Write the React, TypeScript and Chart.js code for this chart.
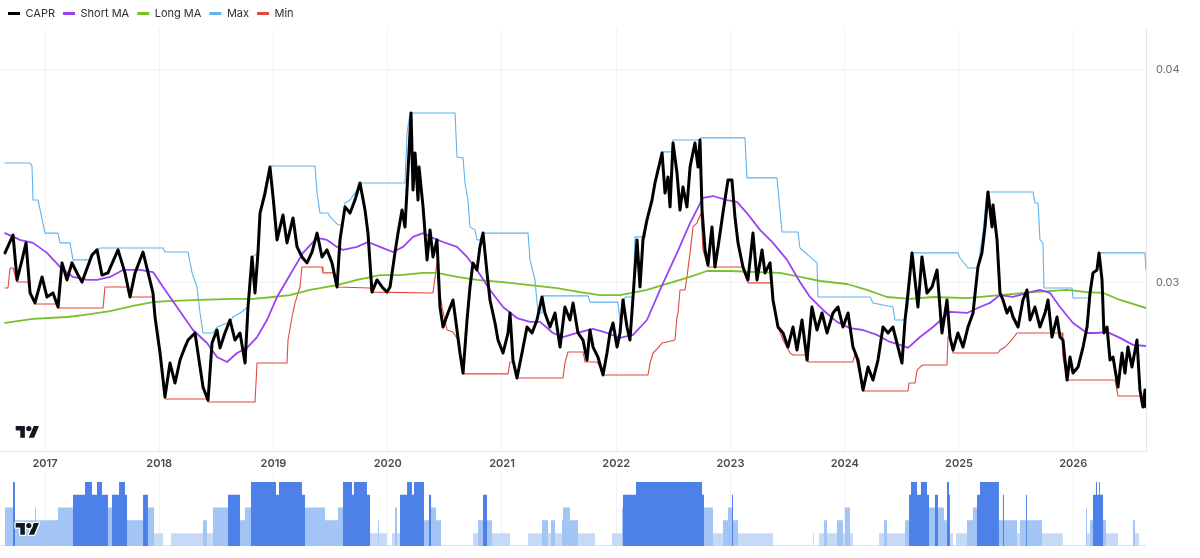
import React, { useEffect, useRef } from "react";
import { Chart, registerables } from "chart.js";

Chart.register(...registerables);
Chart.defaults.font.family = "Inter, 'Noto Sans', sans-serif";

const yearTicks = [2017, 2018, 2019, 2020, 2021, 2022, 2023, 2024, 2025, 2026];
const priceTicks = [0.03, 0.04];
const xMin = 2016.606;
const xMax = 2026.637;
const yMin = 0.02208;
const yMax = 0.04189;

const caprSeries: [number, number][] = [
  [2016.650, 0.03138], [2016.720, 0.03222], [2016.755, 0.03011], [2016.799, 0.03105], [2016.834, 0.03185],
  [2016.869, 0.02950], [2016.912, 0.02903], [2016.974, 0.03025], [2017.017, 0.02931], [2017.070, 0.02950],
  [2017.114, 0.02884], [2017.149, 0.03091], [2017.192, 0.03011], [2017.236, 0.03091], [2017.289, 0.03034],
  [2017.324, 0.03001], [2017.411, 0.03128], [2017.455, 0.03152], [2017.499, 0.03034], [2017.551, 0.03044],
  [2017.639, 0.03152], [2017.700, 0.03044], [2017.744, 0.02931], [2017.788, 0.03044], [2017.858, 0.03142],
  [2017.901, 0.03048], [2017.945, 0.02950], [2017.963, 0.02837], [2018.007, 0.02668], [2018.050, 0.02462],
  [2018.094, 0.02621], [2018.138, 0.02527], [2018.182, 0.02635], [2018.225, 0.02696], [2018.252, 0.02729],
  [2018.313, 0.02762], [2018.357, 0.02602], [2018.383, 0.02508], [2018.427, 0.02447], [2018.462, 0.02715],
  [2018.505, 0.02776], [2018.532, 0.02692], [2018.575, 0.02762], [2018.619, 0.02823], [2018.663, 0.02729],
  [2018.707, 0.02762], [2018.751, 0.02621], [2018.777, 0.02884], [2018.812, 0.03119], [2018.838, 0.02950],
  [2018.864, 0.03138], [2018.882, 0.03325], [2018.926, 0.03419], [2018.969, 0.03541], [2018.996, 0.03401],
  [2019.031, 0.03199], [2019.083, 0.03316], [2019.118, 0.03185], [2019.171, 0.03302], [2019.206, 0.03166],
  [2019.249, 0.03119], [2019.293, 0.03091], [2019.337, 0.03142], [2019.381, 0.03231], [2019.425, 0.03119],
  [2019.468, 0.03152], [2019.512, 0.03091], [2019.556, 0.02978], [2019.582, 0.03199], [2019.626, 0.03354],
  [2019.670, 0.03325], [2019.713, 0.03386], [2019.757, 0.03466], [2019.801, 0.03339], [2019.827, 0.03231],
  [2019.862, 0.02954], [2019.906, 0.03011], [2019.950, 0.02978], [2019.993, 0.02954], [2020.020, 0.02978],
  [2020.063, 0.03138], [2020.090, 0.03231], [2020.125, 0.03339], [2020.151, 0.03260], [2020.177, 0.03518],
  [2020.204, 0.03795], [2020.221, 0.03433], [2020.239, 0.03607], [2020.265, 0.03386], [2020.274, 0.03541],
  [2020.309, 0.03354], [2020.344, 0.03105], [2020.370, 0.03246], [2020.396, 0.03119], [2020.431, 0.03199],
  [2020.457, 0.02884], [2020.484, 0.02790], [2020.527, 0.02856], [2020.571, 0.02917], [2020.606, 0.02776],
  [2020.632, 0.02668], [2020.659, 0.02574], [2020.694, 0.02823], [2020.720, 0.02978], [2020.746, 0.03091],
  [2020.781, 0.03058], [2020.807, 0.03166], [2020.834, 0.03231], [2020.869, 0.03044], [2020.895, 0.02917],
  [2020.939, 0.02809], [2020.965, 0.02729], [2021.009, 0.02668], [2021.053, 0.02762], [2021.070, 0.02856],
  [2021.096, 0.02635], [2021.131, 0.02551], [2021.175, 0.02668], [2021.219, 0.02790], [2021.263, 0.02762],
  [2021.306, 0.02823], [2021.350, 0.02931], [2021.376, 0.02856], [2021.420, 0.02790], [2021.464, 0.02856],
  [2021.508, 0.02696], [2021.551, 0.02884], [2021.595, 0.02823], [2021.622, 0.02903], [2021.665, 0.02762],
  [2021.709, 0.02729], [2021.744, 0.02635], [2021.770, 0.02776], [2021.797, 0.02696], [2021.840, 0.02649],
  [2021.884, 0.02565], [2021.919, 0.02668], [2021.945, 0.02762], [2021.972, 0.02809], [2022.007, 0.02696],
  [2022.033, 0.02762], [2022.059, 0.02917], [2022.094, 0.02790], [2022.120, 0.02729], [2022.147, 0.02931],
  [2022.182, 0.03199], [2022.208, 0.02978], [2022.234, 0.03199], [2022.269, 0.03293], [2022.313, 0.03386],
  [2022.339, 0.03466], [2022.366, 0.03527], [2022.401, 0.03607], [2022.427, 0.03419], [2022.453, 0.03494],
  [2022.471, 0.03354], [2022.497, 0.03654], [2022.532, 0.03513], [2022.558, 0.03339], [2022.584, 0.03447],
  [2022.619, 0.03354], [2022.646, 0.03541], [2022.689, 0.03654], [2022.716, 0.03541], [2022.733, 0.03668],
  [2022.751, 0.03339], [2022.777, 0.03152], [2022.803, 0.03081], [2022.838, 0.03260], [2022.864, 0.03072],
  [2022.891, 0.03166], [2022.934, 0.03325], [2022.978, 0.03480], [2023.013, 0.03480], [2023.039, 0.03307],
  [2023.066, 0.03185], [2023.109, 0.03072], [2023.153, 0.03011], [2023.197, 0.03231], [2023.232, 0.03011],
  [2023.276, 0.03152], [2023.302, 0.03044], [2023.346, 0.03091], [2023.372, 0.02917], [2023.416, 0.02790],
  [2023.460, 0.02762], [2023.503, 0.02696], [2023.547, 0.02790], [2023.582, 0.02682], [2023.626, 0.02823],
  [2023.670, 0.02635], [2023.713, 0.02884], [2023.757, 0.02776], [2023.801, 0.02856], [2023.845, 0.02762],
  [2023.897, 0.02856], [2023.941, 0.02884], [2023.985, 0.02790], [2024.029, 0.02856], [2024.072, 0.02696],
  [2024.116, 0.02635], [2024.160, 0.02494], [2024.204, 0.02602], [2024.247, 0.02541], [2024.291, 0.02635],
  [2024.335, 0.02790], [2024.379, 0.02762], [2024.422, 0.02790], [2024.466, 0.02696], [2024.501, 0.02621],
  [2024.528, 0.02823], [2024.554, 0.02950], [2024.589, 0.03138], [2024.615, 0.03011], [2024.641, 0.02884],
  [2024.676, 0.03119], [2024.720, 0.02950], [2024.764, 0.02978], [2024.808, 0.03058], [2024.851, 0.02762],
  [2024.895, 0.02917], [2024.921, 0.02743], [2024.948, 0.02682], [2024.991, 0.02762], [2025.035, 0.02696],
  [2025.079, 0.02790], [2025.123, 0.02856], [2025.166, 0.03072], [2025.201, 0.03138], [2025.228, 0.03260],
  [2025.254, 0.03424], [2025.289, 0.03260], [2025.298, 0.03363], [2025.333, 0.03199], [2025.359, 0.02950],
  [2025.385, 0.02917], [2025.420, 0.02856], [2025.447, 0.02884], [2025.473, 0.02837], [2025.517, 0.02790],
  [2025.560, 0.02917], [2025.595, 0.02964], [2025.622, 0.02823], [2025.665, 0.02884], [2025.709, 0.02790],
  [2025.753, 0.02856], [2025.779, 0.02917], [2025.814, 0.02743], [2025.858, 0.02837], [2025.884, 0.02743],
  [2025.910, 0.02729], [2025.946, 0.02541], [2025.972, 0.02649], [2025.998, 0.02574], [2026.042, 0.02602],
  [2026.086, 0.02696], [2026.121, 0.02790], [2026.147, 0.02950], [2026.173, 0.03044], [2026.208, 0.03058],
  [2026.226, 0.03138], [2026.252, 0.03011], [2026.269, 0.02762], [2026.296, 0.02790], [2026.322, 0.02635],
  [2026.348, 0.02649], [2026.392, 0.02508], [2026.427, 0.02668], [2026.453, 0.02574], [2026.479, 0.02696],
  [2026.514, 0.02602], [2026.558, 0.02729], [2026.584, 0.02494], [2026.611, 0.02415], [2026.628, 0.02494],
  [2026.637, 0.02415],
];

const shortMaSeries: [number, number][] = [
  [2016.650, 0.03231], [2016.781, 0.03199], [2016.895, 0.03185], [2017.017, 0.03138], [2017.131, 0.03072],
  [2017.245, 0.03025], [2017.368, 0.03011], [2017.455, 0.03011], [2017.569, 0.03025], [2017.683, 0.03058],
  [2017.831, 0.03058], [2017.945, 0.03048], [2018.033, 0.02978], [2018.155, 0.02884], [2018.295, 0.02776],
  [2018.418, 0.02715], [2018.505, 0.02649], [2018.593, 0.02626], [2018.681, 0.02668], [2018.768, 0.02692],
  [2018.856, 0.02743], [2018.943, 0.02823], [2019.031, 0.02931], [2019.118, 0.03011], [2019.258, 0.03138],
  [2019.381, 0.03208], [2019.468, 0.03199], [2019.556, 0.03166], [2019.608, 0.03152], [2019.731, 0.03166],
  [2019.827, 0.03189], [2019.932, 0.03166], [2020.046, 0.03142], [2020.134, 0.03166], [2020.221, 0.03213],
  [2020.309, 0.03231], [2020.396, 0.03208], [2020.484, 0.03189], [2020.606, 0.03166], [2020.694, 0.03119],
  [2020.781, 0.03058], [2020.895, 0.02964], [2021.009, 0.02884], [2021.131, 0.02832], [2021.245, 0.02814],
  [2021.333, 0.02814], [2021.446, 0.02762], [2021.534, 0.02743], [2021.656, 0.02762], [2021.797, 0.02781],
  [2021.919, 0.02762], [2022.033, 0.02739], [2022.147, 0.02753], [2022.269, 0.02823], [2022.383, 0.02964],
  [2022.532, 0.03138], [2022.646, 0.03278], [2022.759, 0.03396], [2022.847, 0.03405], [2022.969, 0.03386],
  [2023.057, 0.03377], [2023.144, 0.03325], [2023.258, 0.03246], [2023.372, 0.03185], [2023.495, 0.03105],
  [2023.608, 0.03001], [2023.696, 0.02931], [2023.810, 0.02870], [2023.932, 0.02814], [2024.046, 0.02785],
  [2024.160, 0.02776], [2024.282, 0.02753], [2024.396, 0.02720], [2024.484, 0.02706], [2024.554, 0.02692],
  [2024.659, 0.02743], [2024.773, 0.02790], [2024.921, 0.02861], [2025.070, 0.02856], [2025.184, 0.02884],
  [2025.271, 0.02903], [2025.359, 0.02940], [2025.473, 0.02931], [2025.595, 0.02950], [2025.709, 0.02964],
  [2025.797, 0.02950], [2025.884, 0.02884], [2025.998, 0.02809], [2026.121, 0.02762], [2026.208, 0.02762],
  [2026.296, 0.02767], [2026.409, 0.02739], [2026.523, 0.02706], [2026.637, 0.02701],
];

const longMaSeries: [number, number][] = [
  [2016.650, 0.02809], [2016.895, 0.02828], [2017.192, 0.02837], [2017.333, 0.02846], [2017.569, 0.02865],
  [2017.770, 0.02889], [2017.945, 0.02907], [2018.068, 0.02912], [2018.357, 0.02917], [2018.645, 0.02922],
  [2018.821, 0.02922], [2018.996, 0.02931], [2019.144, 0.02940], [2019.319, 0.02964], [2019.556, 0.02987],
  [2019.731, 0.03011], [2019.932, 0.03034], [2020.107, 0.03034], [2020.309, 0.03044], [2020.431, 0.03044],
  [2020.606, 0.03025], [2020.781, 0.03011], [2021.009, 0.03001], [2021.245, 0.02987], [2021.481, 0.02973],
  [2021.683, 0.02954], [2021.858, 0.02940], [2022.033, 0.02940], [2022.269, 0.02964], [2022.471, 0.02997],
  [2022.646, 0.03025], [2022.794, 0.03053], [2022.996, 0.03053], [2023.232, 0.03048], [2023.433, 0.03044],
  [2023.608, 0.03025], [2023.784, 0.03006], [2024.020, 0.02992], [2024.195, 0.02964], [2024.370, 0.02931],
  [2024.571, 0.02922], [2024.773, 0.02931], [2025.070, 0.02926], [2025.359, 0.02940], [2025.648, 0.02954],
  [2025.946, 0.02964], [2026.121, 0.02954], [2026.261, 0.02950], [2026.409, 0.02917], [2026.637, 0.02879],
];

const maxSeries: [number, number][] = [
  [2016.650, 0.03560], [2016.869, 0.03560], [2016.886, 0.03546], [2016.895, 0.03386], [2016.939, 0.03386],
  [2017.000, 0.03231], [2017.114, 0.03231], [2017.131, 0.03185], [2017.219, 0.03185], [2017.245, 0.03105],
  [2017.394, 0.03105], [2017.411, 0.03128], [2017.455, 0.03152], [2017.481, 0.03161], [2018.033, 0.03161],
  [2018.050, 0.03142], [2018.252, 0.03142], [2018.287, 0.03044], [2018.330, 0.02978], [2018.357, 0.02856],
  [2018.383, 0.02762], [2018.470, 0.02762], [2018.505, 0.02790], [2018.619, 0.02814], [2018.645, 0.02837],
  [2018.707, 0.02856], [2018.777, 0.02884], [2018.812, 0.03119], [2018.864, 0.03138], [2018.882, 0.03325],
  [2018.926, 0.03447], [2018.969, 0.03546], [2019.363, 0.03546], [2019.381, 0.03419], [2019.407, 0.03325],
  [2019.477, 0.03325], [2019.495, 0.03307], [2019.565, 0.03269], [2019.600, 0.03269], [2019.626, 0.03372],
  [2019.670, 0.03386], [2019.731, 0.03433], [2019.757, 0.03466], [2020.151, 0.03466], [2020.169, 0.03701],
  [2020.195, 0.03795], [2020.589, 0.03795], [2020.606, 0.03588], [2020.659, 0.03584], [2020.676, 0.03466],
  [2020.702, 0.03386], [2020.720, 0.03260], [2020.764, 0.03246], [2020.781, 0.03199], [2020.807, 0.03199],
  [2020.834, 0.03231], [2021.228, 0.03231], [2021.245, 0.03105], [2021.289, 0.03011], [2021.315, 0.02856],
  [2021.350, 0.02856], [2021.359, 0.02936], [2021.753, 0.02936], [2021.770, 0.02907], [2022.015, 0.02907],
  [2022.033, 0.02814], [2022.077, 0.02931], [2022.147, 0.02931], [2022.164, 0.03213], [2022.252, 0.03213],
  [2022.269, 0.03293], [2022.313, 0.03386], [2022.357, 0.03527], [2022.401, 0.03612], [2022.488, 0.03612],
  [2022.497, 0.03668], [2022.733, 0.03668], [2022.742, 0.03678], [2023.127, 0.03678], [2023.144, 0.03490],
  [2023.407, 0.03490], [2023.433, 0.03339], [2023.451, 0.03236], [2023.591, 0.03236], [2023.608, 0.03161],
  [2023.696, 0.03119], [2023.757, 0.03091], [2023.766, 0.02931], [2024.221, 0.02931], [2024.247, 0.02903],
  [2024.422, 0.02884], [2024.440, 0.02823], [2024.528, 0.02823], [2024.554, 0.02884], [2024.589, 0.03138],
  [2024.991, 0.03138], [2025.009, 0.03114], [2025.079, 0.03067], [2025.166, 0.03067], [2025.184, 0.03138],
  [2025.210, 0.03231], [2025.245, 0.03424], [2025.648, 0.03424], [2025.665, 0.03372], [2025.692, 0.03372],
  [2025.709, 0.03199], [2025.735, 0.03185], [2025.744, 0.02973], [2025.989, 0.02973], [2025.998, 0.02926],
  [2026.147, 0.02926], [2026.173, 0.03044], [2026.208, 0.03058], [2026.226, 0.03138], [2026.628, 0.03138],
  [2026.637, 0.03058],
];

const minSeries: [number, number][] = [
  [2016.650, 0.02973], [2016.676, 0.02973], [2016.694, 0.03067], [2016.720, 0.03067], [2016.755, 0.03001],
  [2016.851, 0.03001], [2016.886, 0.02931], [2016.912, 0.02898], [2017.105, 0.02898], [2017.114, 0.02879],
  [2017.508, 0.02879], [2017.525, 0.02978], [2017.718, 0.02978], [2017.744, 0.02931], [2017.945, 0.02931],
  [2017.963, 0.02837], [2018.007, 0.02668], [2018.050, 0.02452], [2018.418, 0.02452], [2018.427, 0.02438],
  [2018.838, 0.02438], [2018.856, 0.02621], [2019.118, 0.02621], [2019.127, 0.02729], [2019.162, 0.02837],
  [2019.188, 0.02903], [2019.232, 0.02978], [2019.249, 0.03072], [2019.425, 0.03072], [2019.433, 0.03044],
  [2019.521, 0.03044], [2019.556, 0.02978], [2019.845, 0.02973], [2019.862, 0.02954], [2020.396, 0.02950],
  [2020.431, 0.03091], [2020.440, 0.03011], [2020.475, 0.02884], [2020.519, 0.02776], [2020.571, 0.02767],
  [2020.615, 0.02729], [2020.659, 0.02570], [2021.053, 0.02570], [2021.070, 0.02626], [2021.096, 0.02626],
  [2021.131, 0.02551], [2021.534, 0.02551], [2021.551, 0.02621], [2021.578, 0.02673], [2021.709, 0.02673],
  [2021.727, 0.02626], [2021.832, 0.02626], [2021.858, 0.02602], [2021.884, 0.02565], [2022.278, 0.02565],
  [2022.296, 0.02621], [2022.322, 0.02668], [2022.366, 0.02692], [2022.401, 0.02715], [2022.444, 0.02720],
  [2022.514, 0.02729], [2022.532, 0.02837], [2022.541, 0.02856], [2022.558, 0.02964], [2022.602, 0.02964],
  [2022.619, 0.03025], [2022.646, 0.03138], [2022.672, 0.03260], [2022.707, 0.03278], [2022.742, 0.03325],
  [2022.759, 0.03152], [2022.803, 0.03072], [2023.101, 0.03072], [2023.109, 0.03058], [2023.153, 0.02997],
  [2023.363, 0.02997], [2023.372, 0.02917], [2023.416, 0.02790], [2023.460, 0.02729], [2023.521, 0.02668],
  [2023.547, 0.02659], [2023.670, 0.02659], [2023.678, 0.02626], [2024.072, 0.02626], [2024.090, 0.02668],
  [2024.116, 0.02602], [2024.160, 0.02490], [2024.554, 0.02490], [2024.563, 0.02527], [2024.615, 0.02527],
  [2024.633, 0.02588], [2024.659, 0.02602], [2024.685, 0.02612], [2024.895, 0.02612], [2024.904, 0.02743],
  [2024.921, 0.02743], [2024.948, 0.02668], [2025.341, 0.02668], [2025.359, 0.02682], [2025.403, 0.02696],
  [2025.447, 0.02720], [2025.508, 0.02762], [2025.902, 0.02762], [2025.910, 0.02649], [2025.946, 0.02541],
  [2026.366, 0.02541], [2026.392, 0.02466], [2026.584, 0.02466], [2026.602, 0.02415], [2026.637, 0.02415],
];

// [start date, signal level 0..5] — each level holds until the next start
const signalSteps: [number, number][] = [
  [2016.650, 3], [2016.720, 5], [2016.737, 2], [2016.912, 3], [2016.921, 2], [2017.114, 3], [2017.245, 4],
  [2017.350, 5], [2017.411, 4], [2017.455, 5], [2017.499, 4], [2017.551, 3], [2017.586, 4], [2017.648, 5],
  [2017.700, 4], [2017.718, 2], [2017.858, 4], [2017.901, 3], [2017.954, 1], [2018.033, 0], [2018.103, 1],
  [2018.383, 2], [2018.418, 1], [2018.470, 3], [2018.602, 4], [2018.707, 2], [2018.751, 3], [2018.803, 5],
  [2019.022, 4], [2019.048, 5], [2019.249, 4], [2019.276, 3], [2019.451, 2], [2019.565, 3], [2019.608, 5],
  [2019.687, 4], [2019.704, 5], [2019.818, 4], [2019.845, 1], [2019.915, 2], [2019.923, 1], [2019.993, 0],
  [2020.037, 1], [2020.063, 3], [2020.081, 1], [2020.107, 4], [2020.169, 5], [2020.212, 4], [2020.230, 5],
  [2020.317, 2], [2020.361, 4], [2020.379, 3], [2020.422, 2], [2020.466, 0], [2020.746, 1], [2020.790, 2],
  [2020.834, 4], [2020.869, 2], [2020.912, 1], [2021.070, 0], [2021.228, 1], [2021.350, 2], [2021.403, 1],
  [2021.429, 2], [2021.464, 1], [2021.525, 2], [2021.534, 3], [2021.595, 2], [2021.665, 1], [2021.814, 0],
  [2021.963, 1], [2022.050, 3], [2022.059, 4], [2022.173, 5], [2022.751, 4], [2022.768, 3], [2022.847, 1],
  [2022.934, 2], [2022.978, 3], [2023.013, 4], [2023.022, 2], [2023.066, 1], [2023.372, 0], [2023.722, 1],
  [2023.731, 0], [2023.775, 1], [2023.819, 2], [2023.845, 1], [2023.932, 2], [2023.985, 1], [2024.002, 3],
  [2024.046, 1], [2024.072, 0], [2024.300, 1], [2024.344, 2], [2024.370, 1], [2024.528, 2], [2024.563, 4],
  [2024.580, 5], [2024.633, 4], [2024.667, 5], [2024.720, 4], [2024.738, 3], [2024.790, 4], [2024.816, 3],
  [2024.869, 2], [2024.895, 5], [2024.913, 4], [2024.921, 1], [2024.948, 0], [2024.974, 1], [2025.070, 2],
  [2025.123, 3], [2025.158, 4], [2025.184, 5], [2025.350, 2], [2025.385, 4], [2025.394, 2], [2025.508, 1],
  [2025.534, 2], [2025.587, 4], [2025.595, 2], [2025.727, 1], [2025.910, 0], [2026.112, 3], [2026.121, 1],
  [2026.147, 2], [2026.173, 4], [2026.199, 5], [2026.208, 4], [2026.226, 5], [2026.234, 4], [2026.261, 2],
  [2026.287, 1], [2026.392, 0], [2026.523, 2], [2026.541, 1], [2026.576, 0],
];
const signalEnd = 2026.637;

const toXY = (s: [number, number][]) => s.map(([x, y]) => ({ x, y }));

const gridColor = "#f0f2f6";

function TvLogo({ left, top, outline }: { left: number; top: number; outline?: boolean }) {
  const stroke = outline ? "#ffffff" : "none";
  const sw = outline ? 4 : 0;
  return (
    <svg
      width={27}
      height={21}
      viewBox="-2 -2 40 32"
      style={{ position: "absolute", left: left - 1.5, top: top - 1.5, overflow: "visible", pointerEvents: "none" }}
    >
      <path
        d="M14 22H7V11H0V4h14v18zM28 22h-8l7.5-18h8L28 22z"
        fill="#131722"
        stroke={stroke}
        strokeWidth={sw}
        paintOrder="stroke"
        strokeLinejoin="round"
      />
      <circle cx="20" cy="8" r="4" fill="#131722" stroke={stroke} strokeWidth={sw} paintOrder="stroke" />
    </svg>
  );
}

export default function App() {
  const topRef = useRef<HTMLCanvasElement | null>(null);
  const botRef = useRef<HTMLCanvasElement | null>(null);

  useEffect(() => {
    document.body.style.margin = "0";
    document.body.style.background = "#ffffff";
    if (!topRef.current || !botRef.current) return;

    const yearTickBuilder = (axis: any) => {
      axis.ticks = yearTicks.map((v) => ({ value: v }));
    };

    const lineDs = (label: string, series: [number, number][], color: string, width: number) => ({
      label,
      data: toXY(series),
      borderColor: color,
      backgroundColor: color,
      borderWidth: width,
      pointRadius: 0,
      pointHoverRadius: 0,
      tension: 0,
      borderJoinStyle: "round" as const,
      borderCapStyle: "round" as const,
      fill: false,
    });

    const top = new Chart(topRef.current, {
      type: "line",
      data: {
        datasets: [
          lineDs("CAPR", caprSeries, "#000000", 3),
          lineDs("Short MA", shortMaSeries, "#9a43f3", 1.8),
          lineDs("Long MA", longMaSeries, "#78c12a", 1.8),
          lineDs("Max", maxSeries, "#5db4f1", 1.1),
          lineDs("Min", minSeries, "#e3473e", 1.1),
        ],
      },
      options: {
        animation: false,
        responsive: false,
        maintainAspectRatio: false,
        layout: { padding: { left: 0, right: 0, top: 0, bottom: 0 } },
        plugins: {
          tooltip: { enabled: false },
          legend: {
            display: true,
            position: "top",
            align: "start",
            labels: {
              boxWidth: 12,
              boxHeight: 3,
              padding: 8,
              color: "#2a2e39",
              font: { size: 11, family: "Inter" },
              generateLabels: (chart: any) =>
                (Chart.defaults.plugins.legend.labels.generateLabels as any)(chart).map((l: any) => ({
                  ...l,
                  fillStyle: l.strokeStyle,
                  lineWidth: 0,
                })),
            },
          },
        },
        scales: {
          x: {
            type: "linear",
            min: xMin,
            max: xMax,
            afterBuildTicks: yearTickBuilder,
            afterFit: (s: any) => {
              s.height = 21;
            },
            ticks: {
              padding: 6,
              maxRotation: 0,
              autoSkip: false,
              color: "#474a54",
              font: { size: 11, weight: "600", family: "Inter" },
              callback: (v: any) => String(v),
            },
            grid: { color: gridColor, drawTicks: false },
            border: { color: "#e3e6ec" },
          },
          y: {
            type: "linear",
            position: "right",
            min: yMin,
            max: yMax,
            afterBuildTicks: (axis: any) => {
              axis.ticks = priceTicks.map((v) => ({ value: v }));
            },
            afterFit: (s: any) => {
              s.width = 54;
            },
            ticks: {
              padding: 10,
              color: "#6a6d78",
              font: { size: 11, family: "Inter" },
              callback: (v: any) => Number(v).toFixed(2),
            },
            grid: { color: gridColor, drawTicks: false },
            border: { color: "#e3e6ec" },
          },
        },
      },
    } as any);

    const classes = [
      { test: (l: number) => l >= 4, color: "#4e80ea" },
      { test: (l: number) => l === 2 || l === 3, color: "#a2c5f6" },
      { test: (l: number) => l === 1, color: "#c6daf8" },
    ];

    const bottom = new Chart(botRef.current, {
      type: "line",
      data: {
        datasets: classes.map((c, i) => ({
          label: "signal" + i,
          data: [
            ...signalSteps.map(([x, l]) => ({ x, y: c.test(l) ? l : 0 })),
            { x: signalEnd, y: 0 },
          ],
          stepped: "before",
          borderWidth: 0,
          borderColor: c.color,
          backgroundColor: c.color,
          pointRadius: 0,
          fill: "origin",
        })),
      },
      options: {
        animation: false,
        responsive: false,
        maintainAspectRatio: false,
        layout: { padding: { left: 0, right: 54, top: 0, bottom: 10 } },
        plugins: { legend: { display: false }, tooltip: { enabled: false } },
        scales: {
          x: {
            type: "linear",
            min: xMin,
            max: xMax,
            afterBuildTicks: yearTickBuilder,
            afterFit: (s: any) => {
              s.height = 0;
            },
            ticks: { display: false },
            grid: { color: gridColor, drawTicks: false },
            border: { display: false },
          },
          y: {
            type: "linear",
            position: "right",
            min: -0.16,
            max: 5.78,
            afterBuildTicks: (axis: any) => {
              axis.ticks = [{ value: 0 }];
            },
            afterFit: (s: any) => {
              s.width = 0;
            },
            ticks: { display: false },
            grid: { color: "#d4e2fb", drawTicks: false },
            border: { display: false },
          },
        },
      },
    } as any);

    return () => {
      top.destroy();
      bottom.destroy();
    };
  }, []);

  return (
    <div style={{ position: "relative", width: 1200, height: 558, background: "#ffffff", overflow: "hidden" }}>
      <canvas ref={topRef} width={1200} height={472} style={{ position: "absolute", left: 0, top: 0, width: 1200, height: 472 }} />
      <canvas ref={botRef} width={1200} height={86} style={{ position: "absolute", left: 0, top: 472, width: 1200, height: 86 }} />
      <TvLogo left={15} top={423} />
      <TvLogo left={15} top={520} outline />
    </div>
  );
}
